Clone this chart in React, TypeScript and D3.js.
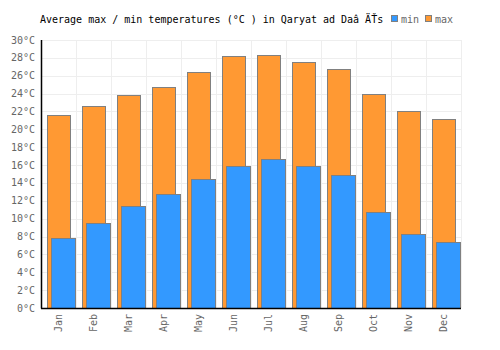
import { useRef, useEffect } from 'react'
import * as d3 from 'd3'

const MONTHS = ['Jan', 'Feb', 'Mar', 'Apr', 'May', 'Jun', 'Jul', 'Aug', 'Sep', 'Oct', 'Nov', 'Dec']
const MAX_TEMPS = [21.6, 22.6, 23.8, 24.7, 26.4, 28.2, 28.3, 27.5, 26.7, 24.0, 22.1, 21.2]
const MIN_TEMPS = [7.8, 9.5, 11.4, 12.8, 14.4, 15.9, 16.7, 15.9, 14.9, 10.7, 8.25, 7.35]
const Y_TICKS = d3.range(0, 31, 2)

const TITLE = 'Average max / min temperatures (°C ) in Qaryat ad Daâ  ÄŤs'
const FONT = '"DejaVu Sans Mono", monospace'
const W = 500
const H = 350
const MARGIN = { top: 40, right: 39, bottom: 42, left: 41 }

export default function App() {
  const svgRef = useRef<SVGSVGElement>(null)

  useEffect(() => {
    if (!svgRef.current) return
    const svg = d3.select(svgRef.current)
    svg.selectAll('*').remove()

    const iw = W - MARGIN.left - MARGIN.right
    const ih = H - MARGIN.top - MARGIN.bottom
    const x = d3.scaleBand().domain(MONTHS).range([0, iw])
    const y = d3.scaleLinear().domain([0, 30]).range([ih, 0])
    const bw = x.bandwidth()

    const g = svg.append('g').attr('transform', `translate(${MARGIN.left},${MARGIN.top})`)

    // grid
    g.selectAll('line.hgrid').data(Y_TICKS).join('line')
      .attr('x1', 0).attr('x2', iw)
      .attr('y1', d => Math.round(y(d)) + 0.5).attr('y2', d => Math.round(y(d)) + 0.5)
      .attr('stroke', '#eeeeee').attr('stroke-width', 1)
    g.selectAll('line.vgrid').data(MONTHS).join('line')
      .attr('x1', d => Math.round(x(d)! + bw) + 0.5).attr('x2', d => Math.round(x(d)! + bw) + 0.5)
      .attr('y1', 0).attr('y2', ih)
      .attr('stroke', '#eeeeee').attr('stroke-width', 1)

    // max bars
    g.selectAll('rect.max').data(MAX_TEMPS).join('rect')
      .attr('x', (d, i) => Math.round(x(MONTHS[i])! + bw * 0.17) + 0.5)
      .attr('y', d => Math.round(y(d)) + 0.5)
      .attr('width', Math.round(bw * 0.65))
      .attr('height', d => ih - Math.round(y(d)))
      .attr('fill', '#ff9933').attr('stroke', '#808080').attr('stroke-width', 1)

    // min bars
    g.selectAll('rect.min').data(MIN_TEMPS).join('rect')
      .attr('x', (d, i) => Math.round(x(MONTHS[i])! + bw * 0.29) + 0.5)
      .attr('y', d => Math.round(y(d)) + 0.5)
      .attr('width', Math.round(bw * 0.69))
      .attr('height', d => ih - Math.round(y(d)))
      .attr('fill', '#3399ff').attr('stroke', '#808080').attr('stroke-width', 1)

    // axes
    g.append('line').attr('x1', 0.5).attr('x2', 0.5).attr('y1', 0).attr('y2', ih + 0.5)
      .attr('stroke', '#000').attr('stroke-width', 1.5)
    g.append('line').attr('x1', 0).attr('x2', iw).attr('y1', ih + 0.5).attr('y2', ih + 0.5)
      .attr('stroke', '#000').attr('stroke-width', 1.5)

    g.selectAll('text.ylab').data(Y_TICKS).join('text')
      .attr('x', -6).attr('y', d => y(d)).attr('dy', '0.35em')
      .attr('text-anchor', 'end').attr('fill', '#666').attr('font-size', 10).attr('font-family', FONT)
      .text(d => `${d}°C`)

    g.selectAll('text.xlab').data(MONTHS).join('text')
      .attr('transform', d => `translate(${x(d)! + bw / 2},${ih + 6}) rotate(-90)`)
      .attr('dy', '0.35em')
      .attr('text-anchor', 'end').attr('fill', '#666').attr('font-size', 10).attr('font-family', FONT)
      .text(d => d)

    // title
    svg.append('text').attr('x', 40).attr('y', 23)
      .attr('font-size', 10).attr('font-family', FONT).attr('fill', '#000')
      .text(TITLE)

    // legend
    const legend = [
      { label: 'min', color: '#3399ff', x: 391 },
      { label: 'max', color: '#ff9933', x: 425 },
    ]
    const lg = svg.append('g')
    legend.forEach(l => {
      lg.append('rect').attr('x', l.x + 0.5).attr('y', 15.5).attr('width', 6).attr('height', 6)
        .attr('fill', l.color).attr('stroke', '#808080').attr('stroke-width', 1)
      lg.append('text').attr('x', l.x + 10).attr('y', 23)
        .attr('font-size', 10).attr('font-family', FONT).attr('fill', '#666')
        .text(l.label)
    })
  }, [])

  return (
    <div style={{ margin: -8 }}>
      <svg ref={svgRef} width={W} height={H} style={{ display: 'block', background: '#fff' }} />
    </div>
  )
}
